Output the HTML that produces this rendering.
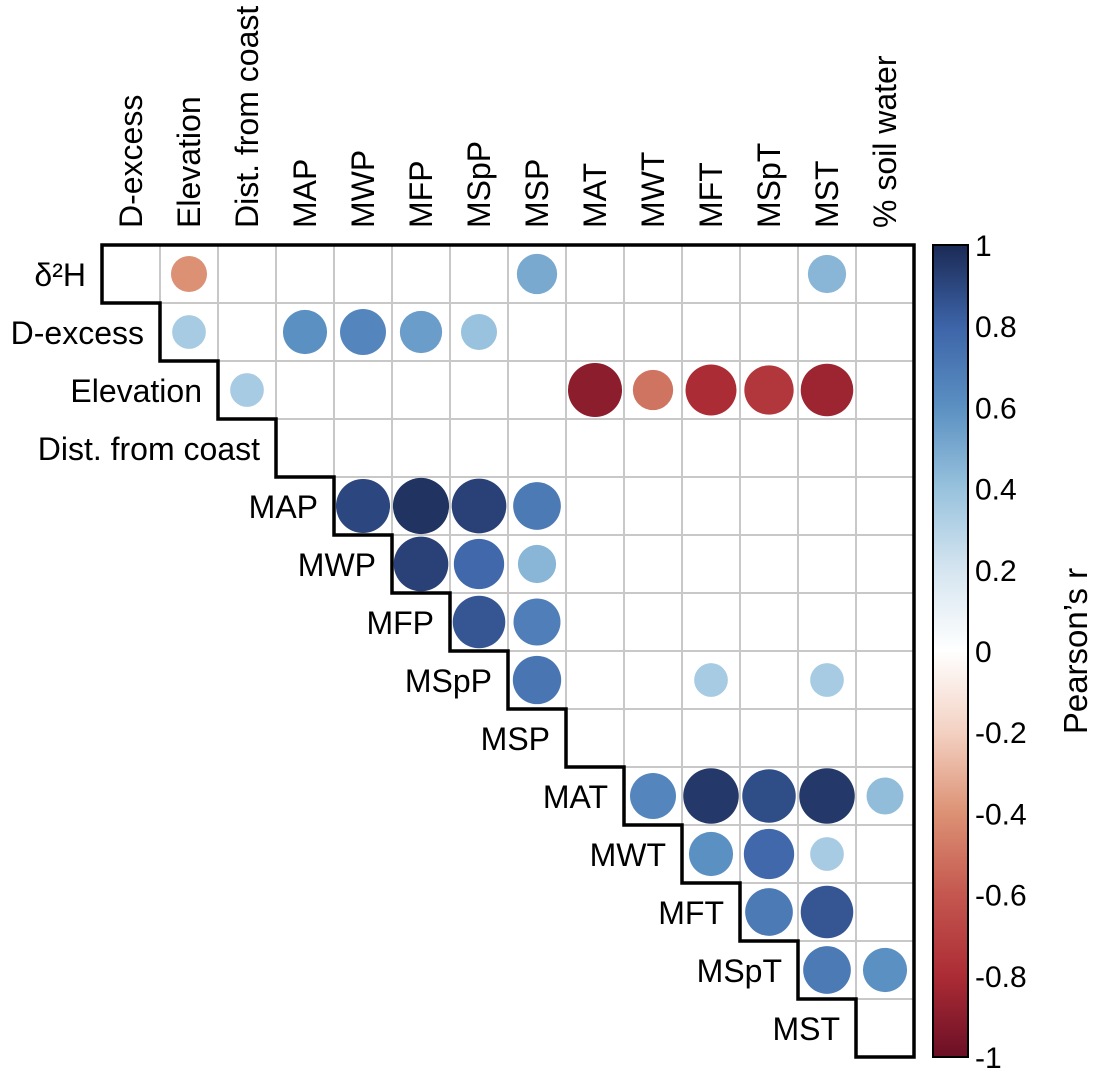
<!DOCTYPE html>
<html><head><meta charset="utf-8"><style>
body{margin:0;background:#fff;}
svg text{font-family:"Liberation Sans",Arial,sans-serif;fill:#000;}
</style></head><body>
<svg id="chart" width="1097" height="1069" xmlns="http://www.w3.org/2000/svg">
<defs><linearGradient id="cb" x1="0" y1="1" x2="0" y2="0">
<stop offset="0" stop-color="#6b0f25"/><stop offset="0.1" stop-color="#ac2c35"/><stop offset="0.2" stop-color="#c4574f"/><stop offset="0.3" stop-color="#dc9174"/><stop offset="0.4" stop-color="#f3d1c2"/><stop offset="0.5" stop-color="#FFFFFF"/><stop offset="0.6" stop-color="#d5e5f0"/><stop offset="0.7" stop-color="#98c2dd"/><stop offset="0.8" stop-color="#5b90c2"/><stop offset="0.9" stop-color="#3d64a8"/><stop offset="1" stop-color="#1b2a55"/>
</linearGradient></defs>
<g id="grid"></g><g id="marks"></g><g id="labels"></g>
<rect x="933" y="245" width="35" height="812" fill="url(#cb)" stroke="#000" stroke-width="2"/>
<g id="cbticks"></g>
<text transform="translate(1087,651) rotate(-90)" text-anchor="middle" font-size="33">Pearson’s r</text>
</svg>
<script>
const rowLabels=["δ²H","D-excess","Elevation","Dist. from coast","MAP","MWP","MFP","MSpP","MSP","MAT","MWT","MFT","MSpT","MST"];
const colLabels=["D-excess","Elevation","Dist. from coast","MAP","MWP","MFP","MSpP","MSP","MAT","MWT","MFT","MSpT","MST","% soil water"];
const corrRow=[0,0,0,1,1,1,1,1,2,2,2,2,2,2,4,4,4,4,5,5,5,6,6,7,7,7,9,9,9,9,9,10,10,10,11,11,12,12];
const corrCol=[1,7,12,1,3,4,5,6,2,8,9,10,11,12,4,5,6,7,5,6,7,6,7,7,10,12,9,10,11,12,13,10,11,12,11,12,12,13];
const corrVal=[-0.4,0.5,0.45,0.35,0.6,0.65,0.55,0.4,0.35,-0.9,-0.5,-0.8,-0.75,-0.85,0.9,0.97,0.92,0.7,0.92,0.78,0.45,0.85,0.68,0.72,0.35,0.35,0.65,0.95,0.88,0.95,0.42,0.6,0.78,0.35,0.7,0.85,0.7,0.6];
const cbTicks=[1,0.8,0.6,0.4,0.2,0,-0.2,-0.4,-0.6,-0.8,-1];
const X0=102,Y0=245,C=58,N=14;
const xs=i=>X0+i*C, ys=i=>Y0+i*C;
const cbY=v=>245+(1-v)/2*812;
const stops=[[107,15,37],[172,44,53],[196,87,79],[220,145,116],[243,209,194],[255,255,255],[213,229,240],[152,194,221],[91,144,194],[61,100,168],[27,42,85]];
function col(v){const t=(v+1)/2*10;const i=Math.min(9,Math.floor(t));const f=t-i;const a=stops[i],b=stops[i+1];return `rgb(${a.map((c,k)=>Math.round(c+(b[k]-c)*f)).join(',')})`;}
const NS="http://www.w3.org/2000/svg";
function mk(t,p,a){const e=document.createElementNS(NS,t);for(const k in a)e.setAttribute(k,a[k]);p.appendChild(e);return e;}
const g=document.getElementById('grid'),m=document.getElementById('marks'),L=document.getElementById('labels'),T=document.getElementById('cbticks');
for(let r=0;r<N;r++)for(let c=r;c<N;c++){const e=mk('rect',g,{x:xs(c),y:ys(r),width:C,height:C,fill:'#fff',stroke:'#c8c8c8','stroke-width':2});

}
let d=`M${xs(0)},${ys(0)} H${xs(N)} V${ys(N)} H${xs(N-1)}`;
for(let i=N-1;i>=1;i--){d+=` V${ys(i)} H${xs(i-1)}`;}d+=` Z`;
const o=mk('path',g,{d:d,fill:'none',stroke:'#000','stroke-width':3.5});


corrVal.forEach((v,i)=>{const e=mk('circle',m,{cx:xs(corrCol[i])+C/2,cy:ys(corrRow[i])+C/2,r:28.5*Math.sqrt(Math.abs(v)),fill:col(v)});

});
rowLabels.forEach((s,i)=>{const e=mk('text',L,{x:xs(i)-16,y:ys(i)+C/2+12,'text-anchor':'end','font-size':32});e.textContent=s;

});
colLabels.forEach((s,i)=>{const e=mk('text',L,{transform:`translate(${xs(i)+C/2+11},228) rotate(-90)`,'font-size':32});e.textContent=s;

});
cbTicks.forEach(v=>{const e=mk('text',T,{x:975,y:cbY(v)+11,'font-size':30});e.textContent=String(v);

});
</script>
</body></html>
